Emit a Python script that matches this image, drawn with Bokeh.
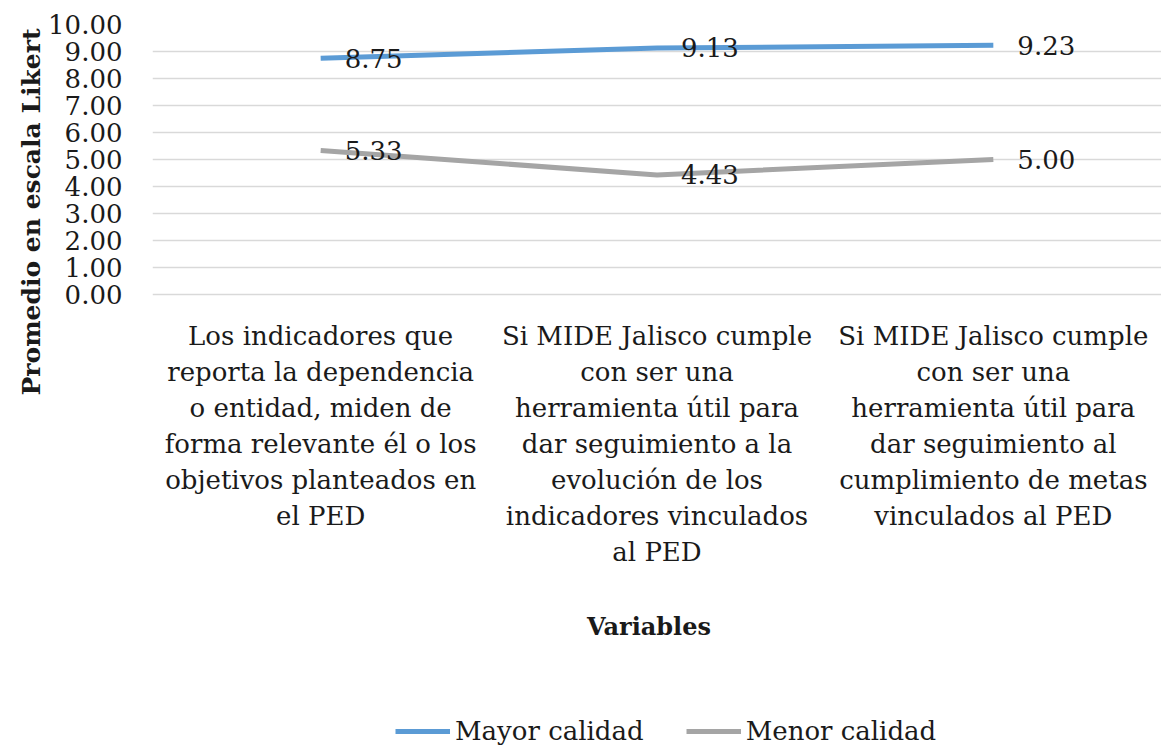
from bokeh.plotting import figure
from bokeh.models import (FactorRange, Range1d, FixedTicker, NumeralTickFormatter,
                          Legend, LegendItem, Title)
from bokeh.core.properties import value
from bokeh.embed import file_html
from bokeh.resources import INLINE

categories = [
    "Los indicadores que\nreporta la dependencia\no entidad, miden de\nforma relevante él o los\nobjetivos planteados en\nel PED",
    "Si MIDE Jalisco cumple\ncon ser una\nherramienta útil para\ndar seguimiento a la\nevolución de los\nindicadores vinculados\nal PED",
    "Si MIDE Jalisco cumple\ncon ser una\nherramienta útil para\ndar seguimiento al\ncumplimiento de metas\nvinculados al PED",
]
mayor_calidad = [8.75, 9.13, 9.23]
menor_calidad = [5.33, 4.43, 5.00]
y_ticks = [0, 1, 2, 3, 4, 5, 6, 7, 8, 9, 10]
x_title = "Variables"
y_title = "Promedio en escala Likert"
series_names = ["Mayor calidad", "Menor calidad"]

FONT = "DejaVu Serif"
TXT = "#1a1a1a"

# layout: the value axis (0..10) takes the top 270 px of a taller frame,
# the area below holds the category labels, the x title and the legend
FRAME_H = 724
PX_PER_UNIT = 27.0
Y_MAX = 10
Y_MIN = Y_MAX - FRAME_H / PX_PER_UNIT

p = figure(x_range=FactorRange(*categories, range_padding=0), y_range=Range1d(Y_MIN, Y_MAX),
           frame_width=1009, frame_height=FRAME_H,
           min_border_left=152, min_border_right=0, min_border_top=24, min_border_bottom=0,
           output_backend="svg", toolbar_location=None)
p.outline_line_color = None
p.background_fill_color = "white"

# y axis
p.yaxis.ticker = FixedTicker(ticks=y_ticks)
p.yaxis.formatter = NumeralTickFormatter(format="0.00")
p.yaxis.axis_line_color = None
p.yaxis.major_tick_line_color = None
p.yaxis.minor_tick_line_color = None
p.yaxis.major_tick_out = 0
p.yaxis.major_label_standoff = 30
p.yaxis.major_label_text_font = FONT
p.yaxis.major_label_text_font_size = "26px"
p.yaxis.major_label_text_color = TXT

p.xaxis.visible = False
p.xgrid.grid_line_color = None
p.ygrid.grid_line_color = "#D9D9D9"
p.ygrid.grid_line_width = 1.5

r1 = p.line(categories, mayor_calidad, line_color="#5B9BD5", line_width=5)
r2 = p.line(categories, menor_calidad, line_color="#A5A5A5", line_width=5)

for vals in (mayor_calidad, menor_calidad):
    p.text(x=categories, y=vals, text=[f"{v:.2f}" for v in vals], x_offset=24,
           text_align="left", text_baseline="middle", text_font=value(FONT),
           text_font_size="26px", text_color=TXT)

# category labels under the value axis
p.text(x=categories, y=[-26 / PX_PER_UNIT] * len(categories), text=categories,
       text_align="center", text_baseline="top", text_line_height=1.2,
       text_font=value(FONT), text_font_size="26px", text_color=TXT)

# x axis title
p.text(x=[categories[1]], y=[-332 / PX_PER_UNIT], text=[x_title], x_offset=-8,
       text_align="center", text_baseline="middle", text_font=value(FONT),
       text_font_style="bold", text_font_size="24px", text_color=TXT)

# y axis title
ytitle = Title(text=y_title, align="left", offset=FRAME_H + 24 - 395,
               text_font=FONT, text_font_style="bold", text_font_size="25px",
               text_color=TXT, standoff=0)
p.add_layout(ytitle, "left")

legend = Legend(items=[LegendItem(label=series_names[0], renderers=[r1]),
                       LegendItem(label=series_names[1], renderers=[r2])],
                orientation="horizontal", location=(243, 2),
                label_text_font=FONT, label_text_font_size="26px", label_text_color=TXT,
                label_height=26, glyph_width=55, glyph_height=24, label_standoff=5, spacing=42,
                border_line_color=None, background_fill_alpha=0, padding=0, margin=0)
p.add_layout(legend)

html = file_html(p, INLINE)
open("out.html", "w").write(html)
